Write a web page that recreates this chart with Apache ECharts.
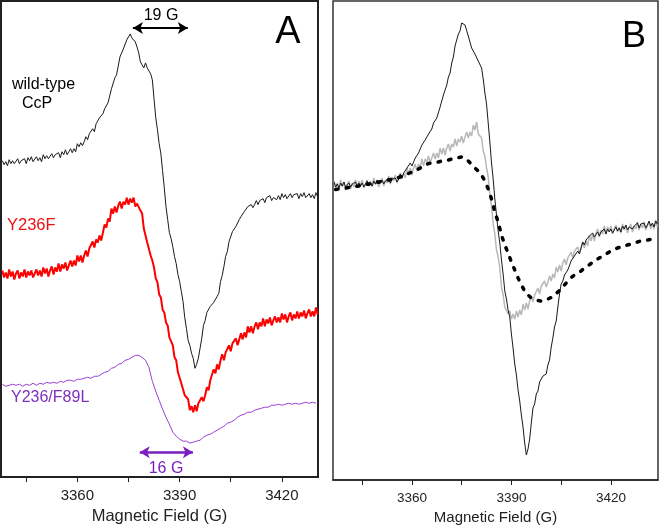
<!DOCTYPE html>
<html><head><meta charset="utf-8">
<script src="https://cdn.jsdelivr.net/npm/echarts@6/dist/echarts.min.js"></script>
<style>html,body{margin:0;padding:0;background:#fff}#c{width:660px;height:530px}</style>
</head><body><div id="c"></div>
<script>
// Magnetic field sampling (G)
const fieldA = {start: 3338, step: 0.5};
const fieldAcoarse = {start: 3338, step: 1};
const fieldB = {start: 3336.5, step: 0.5};
const fieldBcoarse = {start: 3337, step: 1};
const xTicks = [3345, 3360, 3375, 3390, 3405, 3420];
const xLabels = [3360, 3390, 3420];

// Panel A: wild-type CcP (black)
const wtA = [317,313,316,312,318,314,317,314,316,319,
314,317,316,319,314,320,317,321,316,318,
321,317,320,316,323,319,322,319,321,324,
320,323,321,325,320,326,323,328,323,326,
329,325,329,326,334,331,335,332,336,341,
338,344,344,349,346,354,353,360,359,364,
369,368,375,377,389,391,400,403,412,421,
421,429,431,438,437,444,440,442,436,431,
425,416,416,410,415,410,412,404,398,379,
360,348,334,324,307,290,271,258,245,239,
231,221,214,203,196,186,176,160,149,137,
132,124,119,109,113,119,129,139,152,157,
165,164,171,169,175,173,181,184,196,202,
211,221,226,236,238,246,244,251,250,258,
261,260,266,264,271,269,273,270,273,277,
273,277,276,279,275,280,278,282,277,280,
282,278,282,278,284,280,283,279,281,284,
280,283,281,284,279,284,281,285,280,282,
284,280,283,279,285,281];
// Panel A: Y236F (red)
const y236fA = [207,200,205,199,208,201,206,198,204,207,
199,205,201,208,200,206,202,207,200,204,
208,202,207,201,210,204,209,201,207,211,
203,210,206,214,206,213,209,215,207,212,
217,211,217,212,222,216,222,215,222,227,
221,229,227,236,230,238,235,242,237,245,
253,250,259,256,269,264,271,265,272,276,
269,276,273,280,273,279,275,280,271,274,
276,267,264,249,248,235,233,222,217,210,
199,195,183,180,168,165,155,152,140,136,
132,120,117,105,105,94,92,82,81,78,
67,71,65,72,66,74,72,80,76,82,
90,87,97,95,108,104,113,108,117,123,
117,125,123,132,126,134,132,139,132,138,
144,138,145,140,151,145,151,144,151,155,
148,155,151,159,151,158,154,160,152,157,
161,155,160,155,164,158,163,155,161,165,
157,163,159,166,159,165,161,167,159,164,
168,161,166,161,170,163];
// Panel A: Y236/F89L (purple)
const f89lA = [93,91,92,93,92,93,91,93,92,94,
92,94,93,95,94,95,94,96,95,97,
97,96,98,98,99,100,99,101,101,103,
105,106,109,110,113,114,117,118,120,122,
122,120,117,110,96,86,77,68,60,53,
45,41,38,36,36,34,35,36,37,40,
42,43,45,47,49,51,54,55,57,60,
62,63,65,65,67,68,69,70,70,72,
72,73,72,73,74,73,74,73,74,75,
74,75,74];

// Panel B: black thin trace
const wtB = [298,293,296,292,297,294,298,293,295,297,
293,296,294,298,293,297,294,297,293,296,
299,294,297,294,299,296,300,296,298,300,
296,299,298,302,297,301,299,302,298,301,
306,302,307,305,312,311,317,314,318,322,
321,327,328,335,333,340,340,346,345,351,
357,355,362,362,373,375,385,386,395,403,
407,417,423,434,436,446,449,457,457,455,
454,444,442,432,433,426,427,419,418,412,
401,387,376,357,338,317,301,281,265,249,
237,220,206,189,181,170,163,146,132,116,
105,90,79,65,53,37,25,31,41,57,
72,76,86,89,98,99,104,102,106,115,
120,133,142,153,159,173,186,196,199,205,
204,210,212,219,218,224,223,229,226,232,
238,235,240,238,244,242,247,243,245,248,
244,248,246,251,246,251,248,251,247,250,
253,249,252,248,254,251,255,250,253,255,
251,254,253,257,252,256,254,257,252,255,
259,254,257,253,259,256];
// Panel B: gray trace
const grayB = [299,292,297,291,300,293,298,290,296,299,
291,297,293,300,293,299,295,300,292,296,
300,294,299,293,302,295,300,293,299,302,
294,300,297,304,296,303,299,305,297,302,
307,301,307,302,312,306,312,305,312,316,
309,316,313,321,314,321,318,324,317,322,
327,321,327,322,332,326,332,325,332,336,
329,336,333,341,334,341,338,344,337,343,
348,342,348,344,355,350,358,346,348,342,
329,324,312,303,285,274,256,246,230,223,
212,193,185,173,175,166,169,161,166,161,
169,163,170,165,176,170,177,171,179,184,
178,185,183,192,186,194,192,199,193,198,
204,199,206,202,213,208,215,209,217,221,
215,222,220,228,222,229,227,233,227,232,
238,232,239,234,245,239,246,239,247,251,
243,250,246,254,246,253,249,254,246,251,
255,248,253,247,256,250,255,247,253,256,
248,254,251,258,250,256,252,258,250,254,
258,251,256,251,260,253];
// Panel B: dotted trace
const dotB = [290.5,291,291.5,292,292.5,293,293.5,294,295,295.5,
296,296.5,297,298,298.5,299.5,300,301,301.5,302.5,
303.5,305,306.5,308,309.5,311,313,315,316.5,317,
317.5,318,319,319.5,320,321,322,322.5,323,322,
319,315.5,312,309,305,299,291,281,268,258,
245,235,227,218,210,202,195,189,185,182,
180.5,179.5,179,179.5,181,182.5,185,188,191,195,
199,202.5,205,207,209,212,214,216.5,219,221,
223,225,227,229,230.5,232,233,234,235,236,
237,238,239,239.5,240,240.5,241,241.5];

function pairs(f, arr) { return arr.map((v, i) => [f.start + i * f.step, v]); }

const FONT = '"Liberation Sans", Arial, sans-serif';
const chart = echarts.init(document.getElementById('c'), null, {renderer: 'canvas'});

function xAxisCfg(idx, min, max, lblSize, nameSize, nameGap) {
  return {
    type: 'value', gridIndex: idx, min: min, max: max,
    name: 'Magnetic Field (G)', nameLocation: 'middle', nameGap: nameGap,
    nameTextStyle: {fontFamily: FONT, fontSize: nameSize, color: '#222'},
    axisLine: {show: true, onZero: false, lineStyle: {color: '#222', width: idx === 0 ? 2 : 1.5}},
    axisTick: {show: true, inside: false, length: 5, customValues: xTicks, lineStyle: {color: '#222', width: 1}},
    axisLabel: {show: true, customValues: xLabels, margin: 11, fontFamily: FONT, fontSize: lblSize, color: '#222',
      formatter: v => String(Math.round(v))},
    splitLine: {show: false}
  };
}

const option = {
  animation: false,
  backgroundColor: '#fff',
  grid: [
    {left: 1, top: 1, width: 317, height: 477, show: true, borderColor: '#222', borderWidth: 2, backgroundColor: 'transparent'},
    {left: 333, top: 1, width: 325, height: 479, show: true, borderColor: '#333', borderWidth: 1.5, backgroundColor: 'transparent'}
  ],
  xAxis: [
    xAxisCfg(0, 3337.6, 3430.6, 15, 16.5, 30),
    xAxisCfg(1, 3336.2, 3434.2, 13.5, 15, 30)
  ],
  yAxis: [
    {type: 'value', gridIndex: 0, min: 0, max: 477, show: false},
    {type: 'value', gridIndex: 1, min: 0, max: 479, show: false}
  ],
  series: [
    {type: 'line', xAxisIndex: 0, yAxisIndex: 0, data: pairs(fieldA, wtA), showSymbol: false,
     lineStyle: {color: '#1a1a1a', width: 1}, z: 3,
     markLine: {silent: true, symbol: ['arrow', 'arrow'], symbolSize: [9, 10], label: {show: false},
       lineStyle: {color: '#000', width: 2, type: 'solid'},
       data: [[{coord: [3376.3, 450]}, {coord: [3392.4, 450]}]]}},
    {type: 'line', xAxisIndex: 0, yAxisIndex: 0, data: pairs(fieldA, y236fA), showSymbol: false,
     lineStyle: {color: '#ff0000', width: 2}, z: 2},
    {type: 'line', xAxisIndex: 0, yAxisIndex: 0, data: pairs(fieldAcoarse, f89lA), showSymbol: false,
     lineStyle: {color: '#9b3fd6', width: 1}, z: 2,
     markLine: {silent: true, symbol: ['arrow', 'arrow'], symbolSize: [9, 10], label: {show: false},
       lineStyle: {color: '#7a1fc0', width: 2.5, type: 'solid'},
       data: [[{coord: [3378.3, 25]}, {coord: [3393.9, 25]}]]}},
    {type: 'line', xAxisIndex: 1, yAxisIndex: 1, data: pairs(fieldB, grayB), showSymbol: false,
     lineStyle: {color: '#b8b8b8', width: 1.5}, z: 2},
    {type: 'line', xAxisIndex: 1, yAxisIndex: 1, data: pairs(fieldB, wtB), showSymbol: false,
     lineStyle: {color: '#1a1a1a', width: 1}, z: 3},
    {type: 'line', xAxisIndex: 1, yAxisIndex: 1, data: pairs(fieldBcoarse, dotB), showSymbol: false,
     lineStyle: {color: '#000', width: 3.5, type: [2.5, 8.2], cap: 'round'}, z: 4}
  ],
  graphic: [
    {type: 'text', x: 288, y: 33, style: {text: 'A', font: '38px ' + FONT, fill: '#000', textAlign: 'center', textVerticalAlign: 'middle'}},
    {type: 'text', x: 634, y: 37, style: {text: 'B', font: '36px ' + FONT, fill: '#000', textAlign: 'center', textVerticalAlign: 'middle'}},
    {type: 'text', x: 161, y: 16, style: {text: '19 G', font: '16px ' + FONT, fill: '#000', textAlign: 'center', textVerticalAlign: 'middle'}},
    {type: 'text', x: 12, y: 85, style: {text: 'wild-type', font: '16px ' + FONT, fill: '#000', textAlign: 'left', textVerticalAlign: 'middle'}},
    {type: 'text', x: 22, y: 104, style: {text: 'CcP', font: '16px ' + FONT, fill: '#000', textAlign: 'left', textVerticalAlign: 'middle'}},
    {type: 'text', x: 7, y: 225, style: {text: 'Y236F', font: '16.5px ' + FONT, fill: '#ee1111', textAlign: 'left', textVerticalAlign: 'middle'}},
    {type: 'text', x: 11, y: 398, style: {text: 'Y236/F89L', font: '16px ' + FONT, fill: '#7f2fbf', textAlign: 'left', textVerticalAlign: 'middle'}},
    {type: 'text', x: 166, y: 469, style: {text: '16 G', font: '16px ' + FONT, fill: '#7a1fc0', textAlign: 'center', textVerticalAlign: 'middle'}}
  ]
};
chart.setOption(option);
</script></body></html>
